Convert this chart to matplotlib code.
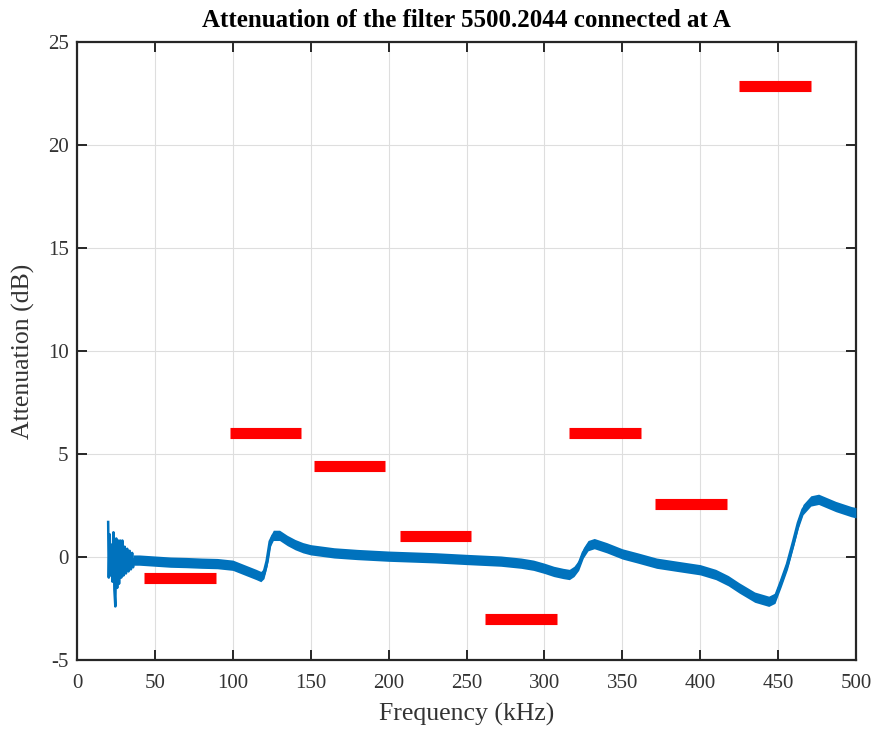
import matplotlib
matplotlib.use("Agg")
import matplotlib.pyplot as plt
import numpy as np

# --- data ---
# early noisy part of the trace (kHz, dB)
spike_f = [20.0, 20.4, 21.0, 21.6, 22.2, 22.8, 23.4, 24.0, 24.6, 25.2, 25.8, 26.4,
           27.0, 27.7, 28.4, 29.1, 29.8, 30.6, 31.4, 32.2, 33.0, 33.8, 34.6, 35.4, 36.0]
spike_a = [1.7, -1.0, 1.1, -0.9, 0.6, -1.2, 1.2, -1.6, -2.4, 0.9, -1.5, 0.8,
           -1.3, 0.8, -1.0, 0.8, -0.9, 0.5, -0.8, 0.4, -0.7, 0.3, -0.6, 0.2, -0.5]

# smoothed centre of the measured trace (kHz, dB)
trace_f = [36, 40, 50, 60, 70, 80, 90, 100, 105, 110, 115, 118, 120, 122, 124, 126,
           130, 135, 140, 145, 150, 165, 180, 200, 230, 250, 272, 285, 293, 300,
           306, 312, 316, 319, 322, 325, 328, 332, 340, 350, 360, 372, 385, 400,
           410, 418, 425, 435, 444, 448, 452, 456, 460, 463, 466, 471, 476, 487,
           497, 500]
trace_a = [-0.15, -0.15, -0.2, -0.25, -0.27, -0.3, -0.32, -0.4, -0.55, -0.7, -0.85,
           -0.95, -0.8, -0.2, 0.75, 1.05, 1.05, 0.8, 0.6, 0.45, 0.35, 0.2, 0.12,
           0.04, -0.04, -0.12, -0.2, -0.3, -0.4, -0.55, -0.7, -0.8, -0.85, -0.7,
           -0.4, 0.2, 0.55, 0.65, 0.45, 0.15, -0.05, -0.3, -0.45, -0.62, -0.85,
           -1.15, -1.5, -1.95, -2.15, -2.0, -1.2, -0.35, 0.77, 1.65, 2.3, 2.72,
           2.8, 2.45, 2.2, 2.15]
# half-width of the ripple band around the centre (dB)
ripple = [0.25] * len(trace_f)

# limit-mask segments: start (kHz), end (kHz), level (dB)
mask_start = [43, 98, 152, 207, 262, 316, 371, 425]
mask_end = [89, 144, 198, 253, 308, 362, 417, 471]
mask_level = [-1.0, 6.0, 4.4, 1.0, -3.0, 6.0, 2.55, 22.85]

xticks = [0, 50, 100, 150, 200, 250, 300, 350, 400, 450, 500]
yticks = [-5, 0, 5, 10, 15, 20, 25]

# --- plotting ---
plt.rcParams['font.family'] = ['Liberation Serif', 'DejaVu Serif']
plt.rcParams['axes.unicode_minus'] = False
blue = '#0072BD'
ink = '#262626'

fig = plt.figure(figsize=(8.76, 7.29), dpi=100)
ax = fig.add_axes([77/876, 1-660/729, (856-77)/876, (660-42)/729])

tf = np.array(trace_f, dtype=float)
ta = np.array(trace_a, dtype=float)
rp = np.array(ripple, dtype=float)
ax.fill_between(tf, ta - rp, ta + rp, color=blue, lw=0, zorder=3)
ax.plot(tf, ta, color=blue, lw=2.5, solid_joinstyle='round', zorder=3)
ax.plot(spike_f + [trace_f[0]], spike_a + [trace_a[0]], color=blue, lw=1.8, zorder=3)

for s, e, l in zip(mask_start, mask_end, mask_level):
    ax.plot([s, e], [l, l], color='#FF0000', lw=8, solid_capstyle='butt', zorder=4)

ax.set_xlim(0, 500)
ax.set_ylim(-5, 25)
ax.set_xticks(xticks)
ax.set_yticks(yticks)
ax.grid(True, color='#dedede', lw=0.8)
ax.set_axisbelow(True)
for sp in ax.spines.values():
    sp.set_linewidth(1.6)
    sp.set_color(ink)
ax.tick_params(direction='in', length=7, width=1.4, top=True, right=True,
               labelsize=15, colors=ink, labelcolor='#333333')
ax.tick_params(axis='x', pad=10)
ax.tick_params(axis='y', pad=6)
ax.set_xlabel('Frequency (kHz)', fontsize=18.5, color='#333333', labelpad=7)
ax.set_ylabel('Attenuation (dB)', fontsize=18.5, color='#333333', labelpad=9)
ax.set_title('Attenuation of the filter 5500.2044 connected at A',
             fontsize=18, fontweight='bold', pad=11)

fig.savefig('out.png', dpi=100)
